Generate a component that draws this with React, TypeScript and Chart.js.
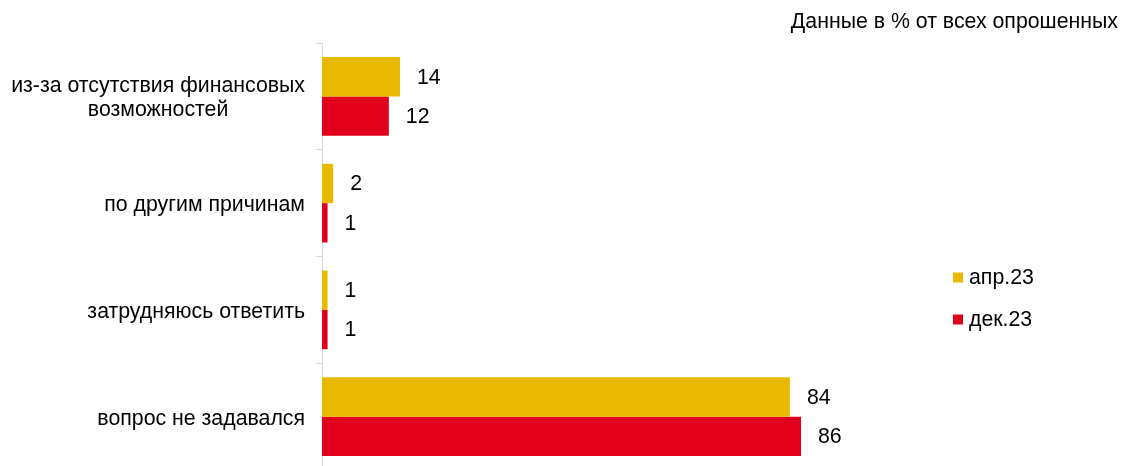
import { useEffect, useRef } from "react";
import { Chart, registerables } from "chart.js";

Chart.register(...registerables);

const categories: (string | string[])[] = [
  ["из-за отсутствия финансовых", "возможностей"],
  "по другим причинам",
  "затрудняюсь ответить",
  "вопрос не задавался",
];
const seriesNames = ["апр.23", "дек.23"];
const aprValues = [14, 2, 1, 84];
const decValues = [12, 1, 1, 86];
const seriesColors = ["#E9B800", "#E0001B"];
const noteText = "Данные в % от всех опрошенных";

const FONT = '"Liberation Sans", Arial, sans-serif';
const FONT_SIZE = 21.3;

export default function App() {
  const ref = useRef<HTMLCanvasElement>(null);

  useEffect(() => {
    const customPlugin = {
      id: "customDraw",
      afterDatasetsDraw(chart: any) {
        const ctx = chart.ctx;
        ctx.save();
        ctx.font = `${FONT_SIZE}px ${FONT}`;
        ctx.fillStyle = "#000";
        ctx.textAlign = "left";
        ctx.textBaseline = "middle";
        chart.data.datasets.forEach((ds: any, i: number) => {
          const meta = chart.getDatasetMeta(i);
          meta.data.forEach((bar: any, j: number) => {
            ctx.fillText(String(ds.data[j]), bar.x + 17, bar.y + 1);
          });
        });
        ctx.restore();
      },
      afterDraw(chart: any) {
        const ctx = chart.ctx;
        const yScale = chart.scales.y;
        ctx.save();
        ctx.font = `${FONT_SIZE}px ${FONT}`;
        ctx.fillStyle = "#000";
        ctx.textBaseline = "middle";
        ctx.textAlign = "center";
        const lineH = 24;
        const rightEdge = 305;
        categories.forEach((cat, i) => {
          const lines = Array.isArray(cat) ? cat : [cat];
          const y = yScale.getPixelForTick(i);
          const maxW = Math.max(...lines.map((l) => ctx.measureText(l).width));
          const cx = rightEdge - maxW / 2;
          const y0 = y - ((lines.length - 1) * lineH) / 2;
          lines.forEach((l, k) => ctx.fillText(l, cx, y0 + k * lineH + 2));
        });

        // legend
        ctx.textAlign = "left";
        const legendY = [277.5, 319.5];
        seriesNames.forEach((name, i) => {
          ctx.fillStyle = seriesColors[i];
          ctx.fillRect(953, legendY[i] - 5, 10, 10);
          ctx.fillStyle = "#000";
          ctx.fillText(name, 969, legendY[i] + 1);
        });

        // note
        ctx.textAlign = "right";
        ctx.textBaseline = "alphabetic";
        ctx.fillText(noteText, 1118, 28);
        ctx.restore();
      },
    };

    const chart = new Chart(ref.current as HTMLCanvasElement, {
      type: "bar",
      data: {
        labels: categories as any,
        datasets: [
          {
            label: seriesNames[0],
            data: aprValues,
            backgroundColor: seriesColors[0],
            categoryPercentage: 0.737,
            barPercentage: 1,
          },
          {
            label: seriesNames[1],
            data: decValues,
            backgroundColor: seriesColors[1],
            categoryPercentage: 0.737,
            barPercentage: 1,
          },
        ],
      },
      options: {
        indexAxis: "y",
        responsive: false,
        animation: false,
        layout: { padding: { left: 0, top: 43, bottom: 10, right: 244 } },
        plugins: {
          legend: { display: false },
          tooltip: { enabled: false },
          title: { display: false },
        },
        scales: {
          x: {
            display: false,
            min: 0,
            max: 100,
          },
          y: {
            display: true,
            afterFit(scale: any) {
              scale.width = 322;
            },
            grid: {
              display: true,
              drawOnChartArea: false,
              drawTicks: true,
              tickLength: 6,
              color: "#D9D9D9",
              offset: true,
            },
            border: { display: true, color: "#D9D9D9", width: 1 },
            ticks: { display: false },
          },
        },
      },
      plugins: [customPlugin],
    });
    return () => chart.destroy();
  }, []);

  return (
    <div
      style={{
        position: "absolute",
        left: 0,
        top: 0,
        width: 1123,
        height: 466,
        overflow: "hidden",
        background: "#fff",
      }}
    >
      <canvas ref={ref} width={1123} height={480} style={{ display: "block" }} />
    </div>
  );
}
